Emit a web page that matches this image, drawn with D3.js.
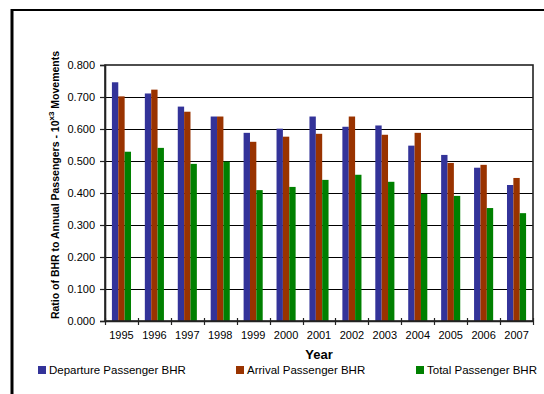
<!DOCTYPE html>
<html>
<head>
<meta charset="utf-8">
<script src="https://cdn.jsdelivr.net/npm/d3@7/dist/d3.min.js"></script>
<style>
  html, body { margin: 0; padding: 0; background: #fff; }
  svg { display: block; }
  text { font-family: Arial, "Liberation Sans", sans-serif; fill: #000; }
</style>
</head>
<body>
<script>
const years = ["1995","1996","1997","1998","1999","2000","2001","2002","2003","2004","2005","2006","2007"];
const seriesNames = ["Departure Passenger BHR", "Arrival Passenger BHR", "Total Passenger BHR"];
const departure = [0.746, 0.711, 0.670, 0.639, 0.588, 0.601, 0.639, 0.607, 0.611, 0.548, 0.519, 0.479, 0.425];
const arrival   = [0.702, 0.723, 0.654, 0.639, 0.560, 0.576, 0.585, 0.639, 0.582, 0.588, 0.494, 0.488, 0.447];
const total     = [0.529, 0.541, 0.491, 0.498, 0.409, 0.419, 0.441, 0.457, 0.435, 0.397, 0.391, 0.353, 0.337];
const yTicks = [0, 0.1, 0.2, 0.3, 0.4, 0.5, 0.6, 0.7, 0.8];
const colors = ["#333399", "#993300", "#008000"];
const seriesValues = [departure, arrival, total];

const W = 544, H = 394;
const plot = { left: 105, right: 533, top: 65, bottom: 321 };

const svg = d3.select("body").append("svg").attr("width", W).attr("height", H);

// outer frame (cropped at right/bottom)
svg.append("line").attr("x1", 12).attr("x2", 12).attr("y1", 9).attr("y2", H + 5)
  .attr("stroke", "#000").attr("stroke-width", 3);
svg.append("line").attr("x1", 11).attr("x2", W + 5).attr("y1", 10).attr("y2", 10)
  .attr("stroke", "#000").attr("stroke-width", 2);

const x = d3.scaleBand().domain(years).range([plot.left, plot.right]).padding(0);
const groupFrac = 0.58;
const x1 = d3.scaleBand().domain(d3.range(3)).range([0, x.bandwidth() * groupFrac]).padding(0);
const y = d3.scaleLinear().domain([0, 0.8]).range([plot.bottom, plot.top]);

// gridlines
svg.append("g").selectAll("line").data(yTicks.filter(t => t > 0 && t < 0.8)).join("line")
  .attr("x1", plot.left).attr("x2", plot.right)
  .attr("y1", d => Math.round(y(d)) + 0.5).attr("y2", d => Math.round(y(d)) + 0.5)
  .attr("stroke", "#000").attr("stroke-width", 1);

// bars
const gOff = (x.bandwidth() * (1 - groupFrac)) / 2;
const groups = svg.append("g").selectAll("g").data(years).join("g")
  .attr("transform", d => `translate(${x(d) + gOff},0)`);
groups.selectAll("rect").data((d, i) => seriesValues.map((s, k) => ({ k, v: s[i] }))).join("rect")
  .attr("x", d => x1(d.k))
  .attr("width", x1.bandwidth())
  .attr("y", d => y(d.v))
  .attr("height", d => y(0) - y(d.v))
  .attr("fill", d => colors[d.k]);

// plot border
svg.append("rect").attr("x", plot.left).attr("y", plot.top)
  .attr("width", plot.right - plot.left).attr("height", plot.bottom - plot.top)
  .attr("fill", "none").attr("stroke", "#222").attr("stroke-width", 1.6);

// y axis
const yAxis = d3.axisLeft(y).tickValues(yTicks).tickFormat(d3.format(".3f")).tickSize(5).tickPadding(5);
const gy = svg.append("g").attr("transform", `translate(${plot.left},0)`).call(yAxis);
gy.select(".domain").attr("stroke", "#222").attr("stroke-width", 1.6);
gy.selectAll(".tick line").attr("stroke", "#222").attr("stroke-width", 1.2);
gy.selectAll(".tick text").attr("font-size", 11).attr("font-family", "Arial, 'Liberation Sans', sans-serif");

// x axis
const xAxis = d3.axisBottom(x).tickSize(0).tickPadding(10);
const gx = svg.append("g").attr("transform", `translate(0,${plot.bottom})`).call(xAxis);
gx.select(".domain").attr("stroke", "#222").attr("stroke-width", 1.6);
gx.selectAll(".tick text").attr("font-size", 11).attr("font-family", "Arial, 'Liberation Sans', sans-serif");
// boundary ticks
const bounds = years.map(d => x(d)).concat([plot.right]);
svg.append("g").selectAll("line").data(bounds).join("line")
  .attr("x1", d => Math.round(d) + 0.5).attr("x2", d => Math.round(d) + 0.5)
  .attr("y1", plot.bottom - 3).attr("y2", plot.bottom + 4)
  .attr("stroke", "#222").attr("stroke-width", 1.2);

// axis titles
svg.append("text").attr("x", 319).attr("y", 359).attr("text-anchor", "middle")
  .attr("font-size", 13).attr("font-weight", "bold").text("Year");

const yt = svg.append("text")
  .attr("transform", `translate(59,${(plot.top + plot.bottom) / 2 - 8}) rotate(-90)`)
  .attr("text-anchor", "middle").attr("font-size", 10.5).attr("font-weight", "bold");
yt.append("tspan").text("Ratio of BHR to Annual Passengers - 10");
yt.append("tspan").attr("dy", -5).attr("font-size", 8).text("x3");
yt.append("tspan").attr("dy", 5).text(" Movements");

// legend
const legendX = [38, 236, 416];
const leg = svg.append("g").selectAll("g").data(seriesNames).join("g")
  .attr("transform", (d, i) => `translate(${legendX[i]},366)`);
leg.append("rect").attr("width", 8).attr("height", 8).attr("fill", (d, i) => colors[i]);
leg.append("text").attr("x", 11).attr("y", 8).attr("font-size", 11.5).text(d => d);
</script>
</body>
</html>
